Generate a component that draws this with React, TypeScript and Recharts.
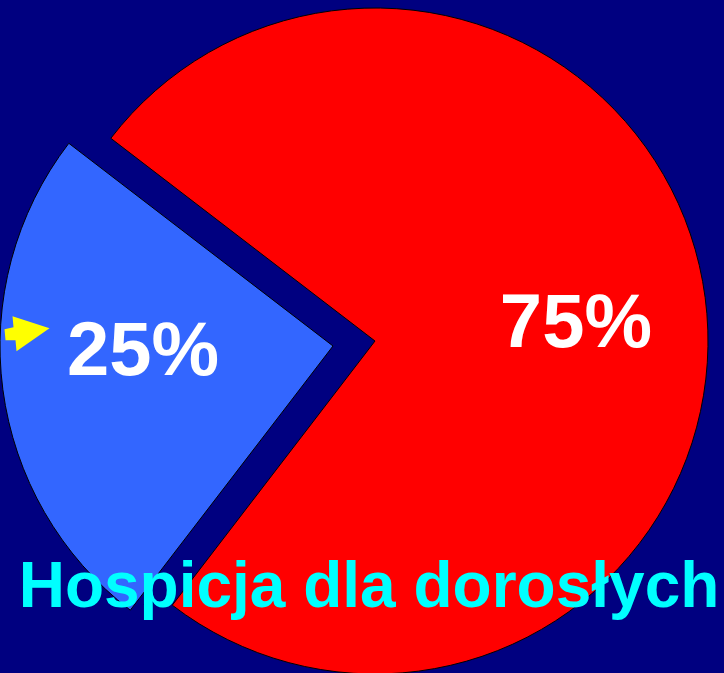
import { PieChart, Pie, Cell } from 'recharts';

// shares of the pie
const categories = ['Pozostałe', 'Hospicja dla dorosłych'];
const shares = [75, 25];
const shareLabels = ['75%', '25%'];
const title = 'Hospicja dla dorosłych';

const data = categories.map((name, i) => ({ name, value: shares[i] }));

const colors = ['#ff0000', '#3366ff'];
const FONT = '"Liberation Sans", Arial, sans-serif';
const RAD = Math.PI / 180;
const labelRadius = [202, 190];
const labelShift = [-1.6, -7];

const renderLabel = (shown: number) => (props: any) => {
  const { cx, cy, midAngle, index } = props;
  if (index !== shown) return null;
  const a = (midAngle + labelShift[index]) * RAD;
  const x = cx + labelRadius[index] * Math.cos(a);
  const y = cy - labelRadius[index] * Math.sin(a);
  const arrow = [
    [-130.5, -31.5],
    [-93.5, -19.5],
    [-126.5, 3.5],
    [-127.5, -7.5],
    [-137.5, -7.5],
    [-138.5, -18.5],
    [-129.5, -20.5],
  ]
    .map(([dx, dy]) => `${x + dx},${y + dy}`)
    .join(' ');
  return (
    <g>
      {index === 1 && <polygon points={arrow} fill="#ffff00" />}
      <text
        x={x}
        y={y}
        dy={27}
        textAnchor="middle"
        fill="#ffffff"
        fontSize={76}
        fontWeight="bold"
        fontFamily={FONT}
      >
        {shareLabels[index]}
      </text>
      {/* caption sits on top of both slices */}
      {index === 1 && (
        <text x={369} y={607} textAnchor="middle" fill="#00ffff" fontSize={64} fontWeight="bold" fontFamily={FONT}>
          {title}
        </text>
      )}
    </g>
  );
};

export default function App() {
  return (
    <div style={{ position: 'absolute', left: 0, top: 0, width: 724, height: 673, background: '#000080' }}>
      <PieChart width={724} height={673} margin={{ top: 0, right: 0, bottom: 0, left: 0 }}>
        <Pie
          data={data}
          dataKey="value"
          nameKey="name"
          cx={375}
          cy={341}
          outerRadius={333}
          startAngle={-127.5}
          endAngle={232.5}
          label={renderLabel(0)}
          labelLine={false}
          isAnimationActive={false}
        >
          {data.map((d, i) => (
            <Cell key={d.name} fill={i === 0 ? colors[0] : 'none'} stroke={i === 0 ? '#000' : 'none'} strokeWidth={1} />
          ))}
        </Pie>
        {/* exploded slice */}
        <Pie
          data={data}
          dataKey="value"
          nameKey="name"
          cx={333}
          cy={346}
          outerRadius={333}
          startAngle={-127.5}
          endAngle={232.5}
          label={renderLabel(1)}
          labelLine={false}
          isAnimationActive={false}
        >
          {data.map((d, i) => (
            <Cell key={d.name} fill={i === 1 ? colors[1] : 'none'} stroke={i === 1 ? '#000' : 'none'} strokeWidth={1} />
          ))}
        </Pie>
      </PieChart>
    </div>
  );
}
